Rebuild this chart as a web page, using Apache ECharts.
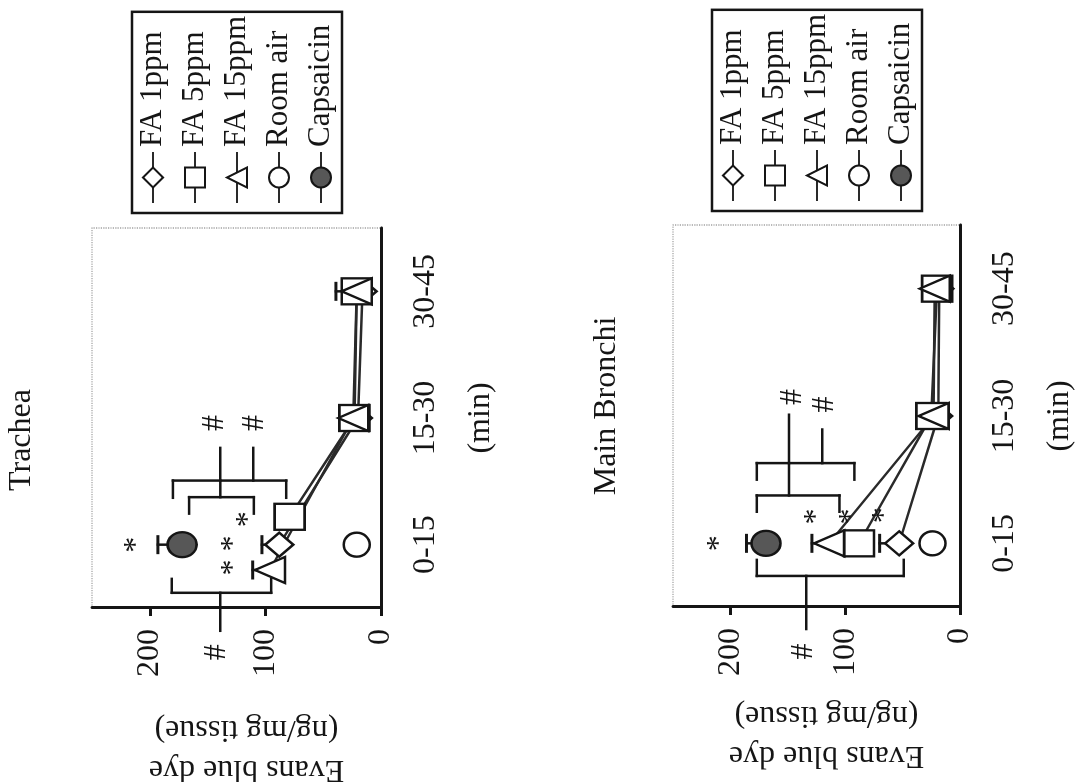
<!DOCTYPE html>
<html>
<head>
<meta charset="utf-8">
<script src="https://cdn.jsdelivr.net/npm/echarts@6.0.0/dist/echarts.min.js"></script>
<style>
  html, body { margin: 0; padding: 0; background: #fff; width: 1080px; height: 782px; overflow: hidden; }
  /* The figure is laid out upright (782 x 1080) and turned a quarter turn to sit on the page sideways. */
  #chart { position: absolute; left: 0; top: 0; width: 782px; height: 1080px;
           transform-origin: 0 0; transform: translateY(782px) rotate(-90deg); background: #fff; }
</style>
</head>
<body>
<div id="chart"></div>
<script>
// ---- categories and tick labels ----
const TIME_SLOTS = ['0-15', '15-30', '30-45'];
const VALUE_TICKS = [0, 100, 200];
const GROUPS = ['FA 1ppm', 'FA 5ppm', 'FA 15ppm', 'Room air', 'Capsaicin'];
const PANEL_TITLES = ['Trachea', 'Main Bronchi'];

// ---- Evans blue dye (ng/mg tissue): means and upper SEM per time slot ----
const tracheaFA1 = [88, 20, 16];
const tracheaFA1Sem = [15, 3, 3];
const tracheaFA5 = [79, 23, 21];
const tracheaFA5Sem = [5, 3, 3];
const tracheaFA15 = [96, 24, 21];
const tracheaFA15Sem = [15, 4, 18];
const tracheaAir = [21];
const tracheaAirSem = [3];
const tracheaCap = [172];
const tracheaCapSem = [21];

const bronchiFA1 = [53, 19, 18];
const bronchiFA1Sem = [17, 3, 3];
const bronchiFA5 = [88, 25, 20];
const bronchiFA5Sem = [14, 3, 3];
const bronchiFA15 = [114, 23, 22];
const bronchiFA15Sem = [15, 3, 3];
const bronchiAir = [24];
const bronchiAirSem = [3];
const bronchiCap = [169];
const bronchiCapSem = [17];

// ---- significance marks: [time position, value] ----
const tracheaStars = [[1.0, 216], [0.82, 132], [1.01, 132], [1.2, 119]];
const tracheaHashes = [[1.96, 144], [1.96, 109], [0.15, 142]];
const bronchiStars = [[1.0, 214], [1.21, 129], [1.21, 99], [1.22, 70]];
const bronchiHashes = [[2.15, 146], [2.09, 118], [0.15, 136]];

// brackets: spine at time position x spanning lo..hi, arms of length arm, stems [value, reach]
const tracheaBrackets = [
  { x: 0.62, lo: 95, hi: 181, arm: 0.11, stems: [[139, 0.32]] },
  { x: 1.375, lo: 110, hi: 166, arm: -0.13, stems: [[139, 1.506]] },
  { x: 1.506, lo: 82, hi: 180, arm: -0.136, stems: [[139, 1.764], [110.5, 1.764]] },
];
const bronchiBrackets = [
  { x: 0.744, lo: 49, hi: 177, arm: 0.126, stems: [[134, 0.327]] },
  { x: 1.376, lo: 105, hi: 177, arm: -0.128, stems: [[149, 1.63]] },
  { x: 1.63, lo: 92, hi: 177, arm: -0.13, stems: [[149, 2.01], [120, 1.894]] },
];

// ---- panel assembly ----
const PANEL_DATA = [
  {
    means: { 'FA 1ppm': tracheaFA1, 'FA 5ppm': tracheaFA5, 'FA 15ppm': tracheaFA15, 'Room air': tracheaAir, 'Capsaicin': tracheaCap },
    sems:  { 'FA 1ppm': tracheaFA1Sem, 'FA 5ppm': tracheaFA5Sem, 'FA 15ppm': tracheaFA15Sem, 'Room air': tracheaAirSem, 'Capsaicin': tracheaCapSem },
    stars: tracheaStars, hashes: tracheaHashes, brackets: tracheaBrackets,
  },
  {
    means: { 'FA 1ppm': bronchiFA1, 'FA 5ppm': bronchiFA5, 'FA 15ppm': bronchiFA15, 'Room air': bronchiAir, 'Capsaicin': bronchiCap },
    sems:  { 'FA 1ppm': bronchiFA1Sem, 'FA 5ppm': bronchiFA5Sem, 'FA 15ppm': bronchiFA15Sem, 'Room air': bronchiAirSem, 'Capsaicin': bronchiCapSem },
    stars: bronchiStars, hashes: bronchiHashes, brackets: bronchiBrackets,
  },
];

// ---- layout and styling ----
const INK = '#151515';
const FONT = "'Liberation Serif', 'Times New Roman', 'DejaVu Serif', serif";

const LAYOUT = [
  { grid: { left: 174, top: 92, width: 380, height: 289 }, legend: { left: 569, top: 132 },
    title: { x: 342, y: 6 }, nameGap: 101, nameLineHeight: 40,
    spread: { 'FA 5ppm': 0.22, 'FA 15ppm': -0.2 } },   // side-by-side offset of the first time slot
  { grid: { left: 175, top: 673, width: 382, height: 287 }, legend: { left: 571, top: 712 },
    title: { x: 376, y: 591 }, nameGap: 88, nameLineHeight: 40,
    spread: {} },
];

const MARKERS = {
  'FA 1ppm':  { symbol: 'diamond',  size: [24, 28], fill: '#fff' },
  'FA 5ppm':  { symbol: 'rect',     size: [26, 30], fill: '#fff' },
  'FA 15ppm': { symbol: 'triangle', size: [26, 30], fill: '#fff' },
  'Room air': { symbol: 'circle',   size: [24, 26], fill: '#fff' },
  'Capsaicin':{ symbol: 'circle',   size: [25, 29], fill: '#575757' },
};

function slotPositions(name, count, spread) {
  return Array.from({ length: count }, (_, i) => i + 1 + (i === 0 ? (spread[name] || 0) : 0));
}

function segment(a, b, width) {
  return { type: 'line', shape: { x1: a[0], y1: a[1], x2: b[0], y2: b[1] },
           style: { stroke: INK, lineWidth: width || 2.5, lineCap: 'square' } };
}

const series = [];
PANEL_DATA.forEach((panel, p) => {
  const spread = LAYOUT[p].spread;
  GROUPS.forEach(name => {
    const means = panel.means[name];
    const sems = panel.sems[name];
    const xs = slotPositions(name, means.length, spread);
    const m = MARKERS[name];

    // upper SEM bars
    series.push({
      type: 'custom', name: 'sem-' + p + '-' + name, xAxisIndex: p, yAxisIndex: p, z: 2,
      data: means.map((v, i) => [xs[i], v, v + sems[i]]),
      renderItem(params, api) {
        const x = api.value(0);
        const base = api.coord([x, api.value(1)]);
        const top = api.coord([x, api.value(2)]);
        return { type: 'group', children: [
          segment(base, top, 2.5),
          segment([top[0] - 8, top[1]], [top[0] + 8, top[1]], 3),
        ] };
      },
    });

    series.push({
      type: 'line', name, xAxisIndex: p, yAxisIndex: p, z: 3,
      data: means.map((v, i) => [xs[i], v]),
      symbol: m.symbol, symbolSize: m.size,
      itemStyle: { color: m.fill, borderColor: INK, borderWidth: 2.5, opacity: 1 },
      lineStyle: { color: '#2a2a2a', width: 2.5 },
      emphasis: { disabled: true },
    });
  });

  // brackets
  series.push({
    type: 'custom', name: 'brackets-' + p, xAxisIndex: p, yAxisIndex: p, z: 4,
    data: panel.brackets.map(b => [b.x, b.lo]),
    renderItem(params, api) {
      const b = panel.brackets[params.dataIndex];
      const c = (x, v) => api.coord([x, v]);
      const children = [
        segment(c(b.x, b.lo), c(b.x, b.hi)),
        segment(c(b.x, b.lo), c(b.x + b.arm, b.lo)),
        segment(c(b.x, b.hi), c(b.x + b.arm, b.hi)),
      ];
      b.stems.forEach(([v, reach]) => children.push(segment(c(b.x, v), c(reach, v))));
      return { type: 'group', children };
    },
  });

  // * and # marks
  const marks = panel.stars.map(s => [s[0], s[1], 0]).concat(panel.hashes.map(h => [h[0], h[1], 1]));
  series.push({
    type: 'custom', name: 'marks-' + p, xAxisIndex: p, yAxisIndex: p, z: 4,
    data: marks,
    renderItem(params, api) {
      const pt = api.coord([api.value(0), api.value(1)]);
      const isHash = api.value(2) === 1;
      return { type: 'text', x: pt[0], y: pt[1] + (isHash ? 0 : 5),
        style: { text: isHash ? '#' : '*', fontFamily: FONT, fontSize: 32, fill: INK,
                 align: 'center', verticalAlign: 'middle' } };
    },
  });
});

const option = {
  animation: false,
  backgroundColor: '#fff',
  grid: LAYOUT.map(L => Object.assign({
    show: true, borderColor: '#8a8a8a', borderWidth: 1.2, borderType: 'dotted',
    backgroundColor: 'transparent', containLabel: false, outerBoundsMode: 'none',
  }, L.grid)),
  xAxis: LAYOUT.map((L, i) => ({
    gridIndex: i, type: 'value', min: 0.5, max: 3.5,
    axisLine: { show: true, onZero: false, lineStyle: { color: INK, width: 3 } },
    axisTick: { show: false }, splitLine: { show: false },
    axisLabel: { customValues: [1, 2, 3], formatter: v => TIME_SLOTS[Math.round(v) - 1],
                 fontFamily: FONT, fontSize: 32, color: INK, margin: 29 },
    name: '(min)', nameLocation: 'middle', nameGap: 84,
    nameTextStyle: { fontFamily: FONT, fontSize: 32, color: INK },
  })),
  yAxis: LAYOUT.map((L, i) => ({
    gridIndex: i, type: 'value', min: 0, max: 250,
    axisLine: { show: true, onZero: false, lineStyle: { color: INK, width: 3 } },
    axisTick: { show: true, customValues: VALUE_TICKS, length: 8, lineStyle: { color: INK, width: 3 } },
    splitLine: { show: false },
    axisLabel: { customValues: VALUE_TICKS, fontFamily: FONT, fontSize: 32, color: INK, margin: 21 },
    name: 'Evans blue dye\n(ng/mg tissue)', nameLocation: 'middle', nameGap: L.nameGap,
    nameTextStyle: { fontFamily: FONT, fontSize: 32, lineHeight: L.nameLineHeight, color: INK,
                     align: 'center', padding: [0, 20, 0, 0] },
  })),
  legend: LAYOUT.map(L => ({
    orient: 'vertical', left: L.legend.left, top: L.legend.top, data: GROUPS, selectedMode: false,
    itemWidth: 51, itemHeight: 25, itemGap: 10, padding: [5, 4, 5, 9],
    borderColor: INK, borderWidth: 2.5, backgroundColor: '#fff',
    textStyle: { fontFamily: FONT, fontSize: 31, lineHeight: 32, color: INK },
  })),
  graphic: LAYOUT.map((L, i) => ({
    type: 'text', x: L.title.x, y: L.title.y,
    style: { text: PANEL_TITLES[i], fontFamily: FONT, fontSize: 32, lineHeight: 32, fill: INK,
             align: 'center', verticalAlign: 'top' },
  })),
  series,
};

const chart = echarts.init(document.getElementById('chart'));
chart.setOption(option);
</script>
</body>
</html>
